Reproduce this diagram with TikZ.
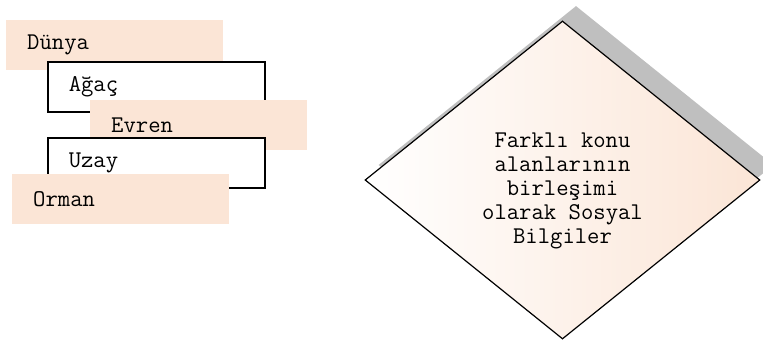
\documentclass[tikz,border=0pt]{standalone}
\usepackage{fontspec}
\usepackage{xcolor}
\usepackage{tikz}
\usetikzlibrary{positioning}
\usetikzlibrary{shapes.geometric}
\definecolor{peach}{HTML}{FBE5D6}
\definecolor{shadowgray}{HTML}{BFBFBF}
\tikzset{
    word/.style = {font=\ttfamily\fontsize{24}{24}\selectfont, anchor=north west, minimum height=50pt, text width=175pt, inner xsep=21pt, inner ysep=0pt, align=left},
    fillbox/.style = {word, fill=peach},
    linebox/.style = {word, fill=white, draw, line width=1.5pt},
    rhomb/.style = {diamond, inner sep=0pt, minimum width=395pt, minimum height=318pt}
}

\begin{document}
\begin{tikzpicture}[x=1pt, y=-1pt]
    % Keep the page at the size of the reference
    \useasboundingbox (0, 0) rectangle (763, 341);

    \node [style=fillbox] (0) at (6, 20) {Dünya};
    \node [style=linebox] (1) at (47, 61) {Ağaç};
    \node [style=fillbox] (2) at (90, 100) {Evren};
    \node [style=linebox] (3) at (47, 137) {Uzay};
    \node [style=fillbox] (4) at (12, 174) {Orman};

    \node [style=rhomb, fill=shadowgray] (5) at (576, 165) {};
    \node [style=rhomb, draw, line width=1.2pt, left color=white, right color=peach] (6) at (562.5, 180) {};
    \node [font=\ttfamily\fontsize{24}{24}\selectfont, align=center] (7) at (562.5, 191) {Farklı konu\\alanlarının\\birleşimi\\olarak Sosyal\\Bilgiler};
\end{tikzpicture}
\end{document}
